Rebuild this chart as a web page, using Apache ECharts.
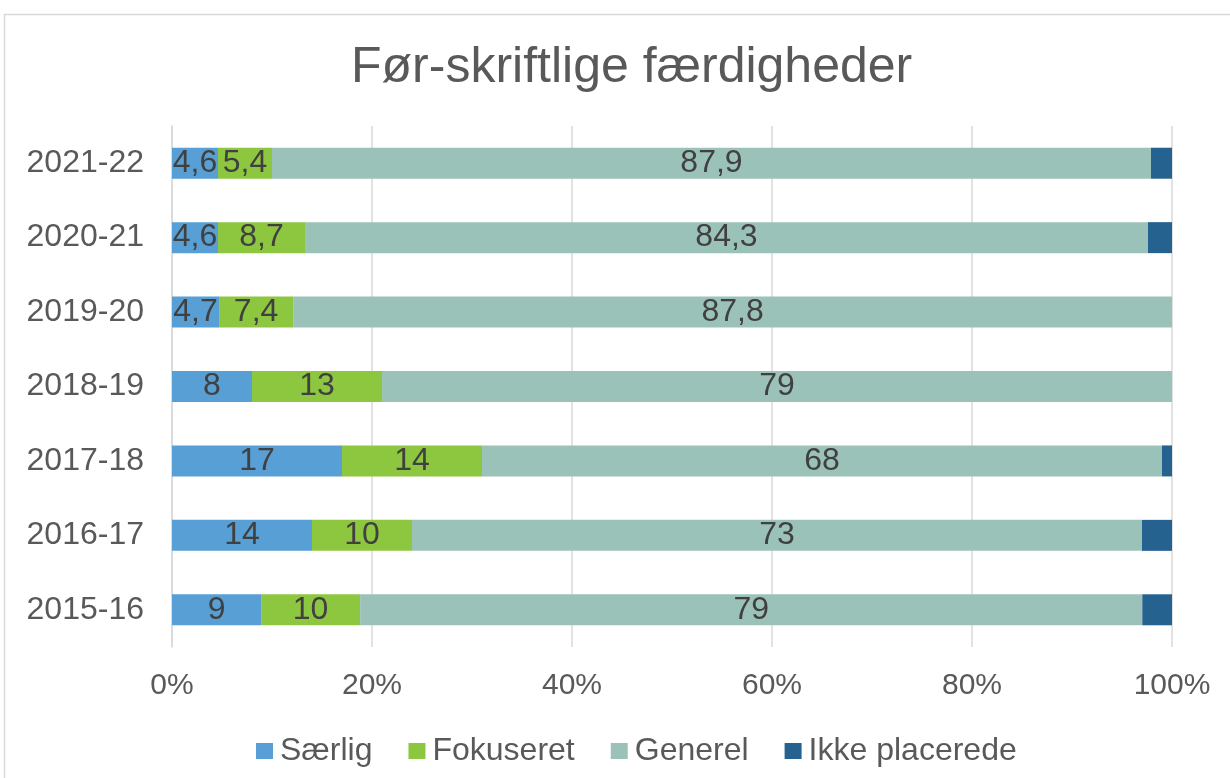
<!DOCTYPE html>
<html>
<head>
<meta charset="utf-8">
<script src="https://cdn.jsdelivr.net/npm/echarts@6/dist/echarts.min.js"></script>
<style>
  html, body { margin: 0; padding: 0; background: #fff; }
  #chart { width: 1230px; height: 778px; }
</style>
</head>
<body>
<div id="chart"></div>
<script>
// years from bottom to top (category axis starts at the bottom)
const years = ["2015-16", "2016-17", "2017-18", "2018-19", "2019-20", "2020-21", "2021-22"];
const saerlig = [9, 14, 17, 8, 4.7, 4.6, 4.6];
const fokuseret = [10, 10, 14, 13, 7.4, 8.7, 5.4];
const generel = [79, 73, 68, 79, 87.8, 84.3, 87.9];
const ikkePlacerede = [3, 3, 1, 0, 0, 2.4, 2.1];
const tickValues = [0, 20, 40, 60, 80, 100];

const font = "Liberation Sans, Arial, sans-serif";
const groups = [
  { name: "Særlig", values: saerlig, color: "#579fd4", label: true },
  { name: "Fokuseret", values: fokuseret, color: "#8dc63f", label: true },
  { name: "Generel", values: generel, color: "#9bc2b8", label: true },
  { name: "Ikke placerede", values: ikkePlacerede, color: "#256290", label: false }
];

// 100% stacked: each row is scaled to its own total
const totals = years.map((y, i) => groups.reduce((s, g) => s + g.values[i], 0));

const fmt = v => String(v).replace(".", ",");

const myChart = echarts.init(document.getElementById("chart"));
const chartOption = {
  animation: false,
  textStyle: { fontFamily: font },
  graphic: [
    {
      type: "rect",
      shape: { x: 4.5, y: 14.5, width: 1260, height: 800 },
      style: { fill: "none", stroke: "#d9d9d9", lineWidth: 1.5 }
    }
  ],
  title: {
    text: "Før-skriftlige færdigheder",
    left: 346,
    top: 38,
    textStyle: { fontSize: 50, fontWeight: "normal", color: "#595959", fontFamily: font }
  },
  legend: {
    top: 730,
    left: 251,
    itemWidth: 17,
    itemHeight: 16,
    itemGap: 36,
    icon: "rect",
    textStyle: { fontSize: 32, color: "#595959", fontFamily: font, padding: [0, 0, 0, 2] },
    data: groups.map(g => g.name)
  },
  grid: { left: 172, right: 58, top: 126, bottom: 131, containLabel: false },
  xAxis: {
    type: "value",
    min: 0,
    max: 100,
    interval: 20,
    axisLine: { show: false },
    axisTick: { show: false },
    splitLine: { lineStyle: { color: "#d9d9d9", width: 1.5 } },
    axisLabel: {
      fontSize: 30,
      color: "#595959",
      margin: 24,
      formatter: v => (tickValues.includes(v) ? v + "%" : "")
    }
  },
  yAxis: {
    type: "category",
    data: years,
    axisLine: { show: true, lineStyle: { color: "#d9d9d9", width: 1.5 } },
    axisTick: { show: false },
    axisLabel: { fontSize: 32, color: "#595959", margin: 28 }
  },
  series: groups.map(g => ({
    name: g.name,
    type: "bar",
    stack: "total",
    barWidth: 31,
    itemStyle: { color: g.color },
    label: {
      show: g.label,
      position: "inside",
      fontSize: 32,
      color: "#404040",
      fontFamily: font,
      formatter: p => fmt(g.values[p.dataIndex])
    },
    data: g.values.map((v, i) => (v / totals[i]) * 100)
  }))
};
myChart.setOption(chartOption);
</script>
</body>
</html>
